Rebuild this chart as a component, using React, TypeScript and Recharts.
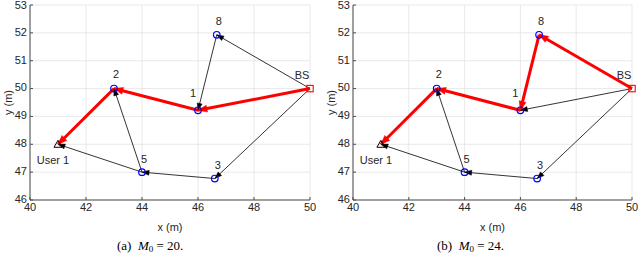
import { CartesianGrid, ComposedChart, Line, Scatter, XAxis, YAxis } from "recharts";

const xTicks = [40, 42, 44, 46, 48, 50];
const yTicks = [46, 47, 48, 49, 50, 51, 52, 53];

const nodes = [
  { name: "BS", x: 50, y: 50 },
  { name: "1", x: 46, y: 49.22 },
  { name: "2", x: 43, y: 50 },
  { name: "3", x: 46.6, y: 46.77 },
  { name: "5", x: 44, y: 47 },
  { name: "8", x: 46.67, y: 51.93 },
  { name: "User 1", x: 41, y: 48 },
];

// pixel offsets of the text labels from their node
const labelOffset: Record<string, [number, number]> = {
  BS: [-8, -14],
  "1": [-5, -17],
  "2": [2, -15],
  "3": [3, -14],
  "5": [2, -13],
  "8": [2, -14],
  "User 1": [-5, 16],
};

const redA = [["BS", "1"], ["1", "2"], ["2", "User 1"]];
const blackA = [["BS", "8"], ["8", "1"], ["BS", "3"], ["3", "5"], ["5", "2"], ["5", "User 1"]];
const redB = [["BS", "8"], ["8", "1"], ["1", "2"], ["2", "User 1"]];
const blackB = [["BS", "1"], ["BS", "3"], ["3", "5"], ["5", "2"], ["5", "User 1"]];

const font = "'Liberation Sans', Arial, Helvetica, sans-serif";
const ink = "#262626";

const byName = (n: string) => nodes.find((d) => d.name === n)!;

function arrowDot(color: string, len: number, half: number) {
  let sx = 0;
  let sy = 0;
  return (p: any) => {
    if (p.index === 0) {
      sx = p.cx;
      sy = p.cy;
      return <g key={`d${p.index}`} />;
    }
    const from = p.points && p.points[0] ? p.points[0] : { x: sx, y: sy };
    const a = Math.atan2(p.cy - from.y, p.cx - from.x);
    const bx = p.cx - len * Math.cos(a);
    const by = p.cy - len * Math.sin(a);
    const nx = -Math.sin(a) * half;
    const ny = Math.cos(a) * half;
    return (
      <polygon
        key={`d${p.index}`}
        points={`${p.cx},${p.cy} ${bx + nx},${by + ny} ${bx - nx},${by - ny}`}
        fill={color}
        stroke={color}
        strokeWidth={0.5}
      />
    );
  };
}

const circleShape = (p: any) => (
  <circle cx={p.cx} cy={p.cy} r={3.3} fill="none" stroke="#0000ff" strokeWidth={1.2} />
);
const squareShape = (p: any) => (
  <rect x={p.cx - 3.2} y={p.cy - 3.2} width={6.4} height={6.4} fill="none" stroke="#ff0000" strokeWidth={1.1} />
);
const triangleShape = (p: any) => (
  <polygon
    points={`${p.cx},${p.cy - 4} ${p.cx - 4},${p.cy + 3} ${p.cx + 4},${p.cy + 3}`}
    fill="none"
    stroke="#000"
    strokeWidth={1}
  />
);
const labelShape = (p: any) => {
  const [dx, dy] = labelOffset[p.payload.name];
  return (
    <text x={p.cx + dx} y={p.cy + dy} textAnchor="middle" dominantBaseline="central" fontSize={11} fill={ink} fontFamily={font}>
      {p.payload.name}
    </text>
  );
};

function Panel({ red, black, left, ml, mr }: { red: string[][]; black: string[][]; left: number; ml: number; mr: number }) {
  const edge = (e: string[], i: number, isRed: boolean) => (
    <Line
      key={(isRed ? "r" : "k") + i}
      data={[byName(e[0]), byName(e[1])]}
      dataKey="y"
      type="linear"
      stroke={isRed ? "#ff0000" : "#000"}
      strokeWidth={isRed ? 3 : 0.8}
      dot={arrowDot(isRed ? "#ff0000" : "#000", isRed ? 9 : 7, isRed ? 3.5 : 2.5)}
      activeDot={false}
      legendType="none"
      isAnimationActive={false}
    />
  );
  return (
    <div style={{ position: "absolute", left, top: 0 }}>
      <ComposedChart width={320} height={240} margin={{ top: 5, right: mr, bottom: 0, left: ml }}>
        <CartesianGrid stroke="#e3e3e3" strokeWidth={0.8} />
        <XAxis
          type="number"
          dataKey="x"
          domain={[40, 50]}
          ticks={xTicks}
          height={40}
          tickSize={-3}
          tickMargin={6}
          stroke="#4d4d4d"
          tick={{ fontSize: 11, fill: ink, fontFamily: font }}
          label={{ value: "x (m)", position: "insideBottom", offset: 9, fontSize: 11, fill: ink, fontFamily: font }}
        />
        <YAxis
          type="number"
          dataKey="y"
          domain={[46, 53]}
          ticks={yTicks}
          width={30}
          tickSize={-3}
          tickMargin={6}
          stroke="#4d4d4d"
          tick={{ fontSize: 11, fill: ink, fontFamily: font, dy: -1 }}
          label={{ value: "y (m)", angle: -90, position: "insideLeft", offset: 8, style: { textAnchor: "middle" }, fontSize: 11, fill: ink, fontFamily: font }}
        />
        <XAxis xAxisId="top" orientation="top" type="number" domain={[40, 50]} ticks={xTicks} height={0} tickSize={-3} tickFormatter={() => ""} stroke="#4d4d4d" />
        <YAxis yAxisId="right" orientation="right" type="number" domain={[46, 53]} ticks={yTicks} width={0} tickSize={-3} tickFormatter={() => ""} stroke="#4d4d4d" />
        {black.map((e, i) => edge(e, i, false))}
        {red.map((e, i) => edge(e, i, true))}
        <Scatter data={nodes.filter((n) => n.name !== "BS" && n.name !== "User 1")} shape={circleShape} isAnimationActive={false} />
        <Scatter data={nodes.filter((n) => n.name === "BS")} shape={squareShape} isAnimationActive={false} />
        <Scatter data={nodes.filter((n) => n.name === "User 1")} shape={triangleShape} isAnimationActive={false} />
        <Scatter data={nodes} shape={labelShape} isAnimationActive={false} />
      </ComposedChart>
    </div>
  );
}

const captionStyle = {
  position: "absolute" as const,
  top: 238,
  fontFamily: "'Liberation Serif', 'DejaVu Serif', serif",
  fontSize: 13,
  color: "#000",
  whiteSpace: "nowrap" as const,
};

export default function App() {
  return (
    <div style={{ position: "absolute", left: 0, top: 0, width: 640, height: 256, background: "#fff" }}>
      <Panel red={redA} black={blackA} left={0} ml={0} mr={10} />
      <Panel red={redB} black={blackB} left={320} ml={3} mr={8} />
      <div style={{ ...captionStyle, left: 117 }}>
        (a)&nbsp; <i>M</i><sub style={{ fontSize: 9, verticalAlign: "-2px" }}>0</sub> = 20.
      </div>
      <div style={{ ...captionStyle, left: 437 }}>
        (b)&nbsp; <i>M</i><sub style={{ fontSize: 9, verticalAlign: "-2px" }}>0</sub> = 24.
      </div>
    </div>
  );
}
